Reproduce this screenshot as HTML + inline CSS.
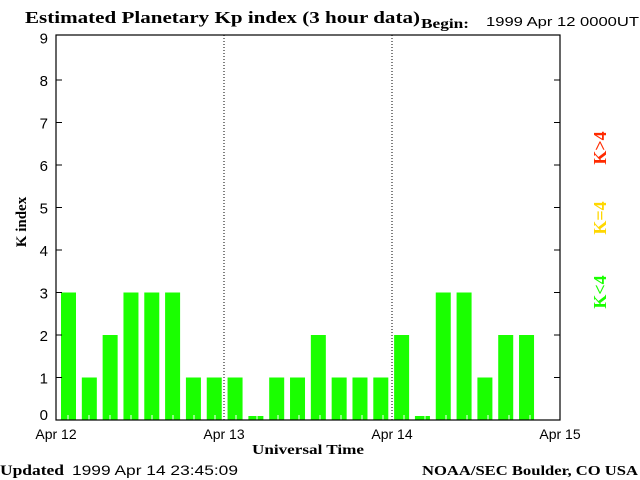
<!DOCTYPE html>
<html><head><meta charset="utf-8"><style>
body{margin:0;background:#fff;}
svg{display:block;}
.t{font-family:"Liberation Serif",serif;font-weight:bold;}
.s{font-family:"Liberation Sans",sans-serif;}
</style></head><body>
<svg id="chart" width="640" height="480">
<text class="t" x="25" y="23" font-size="17" textLength="395" lengthAdjust="spacingAndGlyphs">Estimated Planetary Kp index (3 hour data)</text>
<text class="t" x="421" y="28" font-size="14" textLength="48" lengthAdjust="spacingAndGlyphs">Begin:</text>
<text class="s" x="486" y="26" font-size="13" textLength="153" lengthAdjust="spacingAndGlyphs">1999 Apr 12 0000UT</text>
<g id="bars"></g>
<g id="axes"></g>
<text class="t" x="26" y="222" font-size="15" transform="rotate(-90 26 222)" text-anchor="middle">K index</text>
<text class="t" x="308" y="454" font-size="14" text-anchor="middle" textLength="112" lengthAdjust="spacingAndGlyphs">Universal Time</text>
<text class="t" x="0" y="475" font-size="15" textLength="64" lengthAdjust="spacingAndGlyphs">Updated</text>
<text class="s" x="72" y="475" font-size="14" textLength="166" lengthAdjust="spacingAndGlyphs">1999 Apr 14 23:45:09</text>
<text class="t" x="638" y="475" font-size="14" text-anchor="end" textLength="216" lengthAdjust="spacingAndGlyphs">NOAA/SEC Boulder, CO USA</text>
<text class="t" x="606" y="148" font-size="18" fill="#ff2a00" transform="rotate(-90 606 148)" text-anchor="middle">K&gt;4</text>
<text class="t" x="606" y="218" font-size="18" fill="#ffd700" transform="rotate(-90 606 218)" text-anchor="middle">K=4</text>
<text class="t" x="606" y="292" font-size="18" fill="#1aff00" transform="rotate(-90 606 292)" text-anchor="middle">K&lt;4</text>
</svg>
<script>
const kpValues=[3,1,2,3,3,3,1,1,1,0,1,1,2,1,1,1,2,0,3,3,1,2,2];
const yTicks=[0,1,2,3,4,5,6,7,8,9];
const dayLabels=["Apr 12","Apr 13","Apr 14","Apr 15"];
const NS="http://www.w3.org/2000/svg";
const L=56,R=560,T=35,B=420,slots=24;
function xs(i){return L+(R-L)*i/slots;}
function xb(i){return 61+20.82*i;}
function ys(v){return B-42.5*v;}
function mk(tag,a,p){const e=document.createElementNS(NS,tag);for(const k in a)e.setAttribute(k,a[k]);p.appendChild(e);return e;}
const bars=document.getElementById('bars'),axes=document.getElementById('axes');
kpValues.forEach((v,i)=>{
 const x=xb(i),top=v>0?ys(v):B-4;
 const c=v>4?'#ff2a00':(v==4?'#ffd700':'#1aff00');
 const r=mk('rect',{x:x,y:top,width:15,height:B-top},bars);
 r.setAttribute('fill',c);
 
 
});
for(let i=0;i<slots;i++){const x=xs(i)+12;mk('line',{x1:x,x2:x,y1:B-5,y2:B,stroke:'#fff','stroke-width':1},bars);}
const frame=mk('rect',{x:L,y:T,width:R-L,height:B-T,fill:'none',stroke:'#000','stroke-width':1.2},axes);


[1,2].forEach(d=>{const x=L+(R-L)*d/3;mk('line',{x1:x,x2:x,y1:T,y2:B,stroke:'#000','stroke-dasharray':'1,2'},axes);});
yTicks.forEach(v=>{
 const y=ys(v);
 if(v>0&&v<9){mk('line',{x1:L,x2:L+6,y1:y,y2:y,stroke:'#000'},axes);mk('line',{x1:R-6,x2:R,y1:y,y2:y,stroke:'#000'},axes);}
 const t=mk('text',{x:48,y:Math.min(y+6,B),'text-anchor':'end','font-size':15,class:'s'},axes);
 t.textContent=v;
 
 
});
dayLabels.forEach((d,i)=>{
 const x=L+(R-L)*i/3;
 const t=mk('text',{x:x,y:439,'text-anchor':'middle','font-size':14,class:'s'},axes);
 t.textContent=d;
 
 
});
</script>
</body></html>
